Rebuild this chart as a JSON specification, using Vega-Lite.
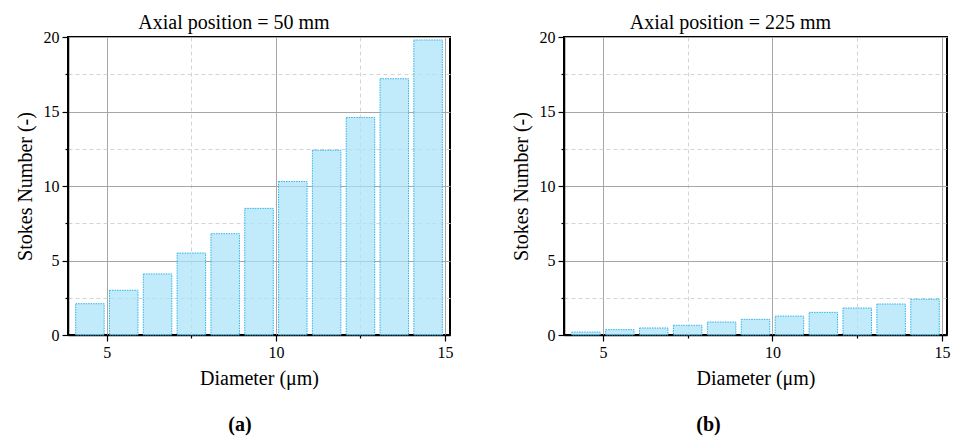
{
  "$schema": "https://vega.github.io/schema/vega-lite/v6.json",
  "background": "white",
  "padding": {"left": 14, "top": 12, "right": 5, "bottom": 5},
  "datasets": {
    "stokes": [
      {"position": "50 mm", "diameter": 4.5, "stokes": 2.1},
      {"position": "50 mm", "diameter": 5.5, "stokes": 3.0},
      {"position": "50 mm", "diameter": 6.5, "stokes": 4.1},
      {"position": "50 mm", "diameter": 7.5, "stokes": 5.5},
      {"position": "50 mm", "diameter": 8.5, "stokes": 6.8},
      {"position": "50 mm", "diameter": 9.5, "stokes": 8.5},
      {"position": "50 mm", "diameter": 10.5, "stokes": 10.3},
      {"position": "50 mm", "diameter": 11.5, "stokes": 12.4},
      {"position": "50 mm", "diameter": 12.5, "stokes": 14.6},
      {"position": "50 mm", "diameter": 13.5, "stokes": 17.2},
      {"position": "50 mm", "diameter": 14.5, "stokes": 19.8},
      {"position": "225 mm", "diameter": 4.5, "stokes": 0.2},
      {"position": "225 mm", "diameter": 5.5, "stokes": 0.36},
      {"position": "225 mm", "diameter": 6.5, "stokes": 0.47},
      {"position": "225 mm", "diameter": 7.5, "stokes": 0.65},
      {"position": "225 mm", "diameter": 8.5, "stokes": 0.87},
      {"position": "225 mm", "diameter": 9.5, "stokes": 1.05},
      {"position": "225 mm", "diameter": 10.5, "stokes": 1.27},
      {"position": "225 mm", "diameter": 11.5, "stokes": 1.52},
      {"position": "225 mm", "diameter": 12.5, "stokes": 1.81},
      {"position": "225 mm", "diameter": 13.5, "stokes": 2.08},
      {"position": "225 mm", "diameter": 14.5, "stokes": 2.4}
    ]
  },
  "config": {
    "font": "Liberation Serif",
    "view": {"stroke": "black", "strokeWidth": 2},
    "concat": {"spacing": 56},
    "title": {"font": "Liberation Serif", "fontSize": 20, "fontWeight": "normal", "color": "black", "offset": -4},
    "axis": {
      "labelFont": "Liberation Serif",
      "labelFontSize": 16,
      "labelColor": "black",
      "titleFont": "Liberation Serif",
      "titleFontSize": 20,
      "titleFontWeight": "normal",
      "titleColor": "black",
      "domainColor": "black",
      "domainWidth": 1.5,
      "tickColor": "black",
      "tickWidth": 1.2,
      "labelPadding": 3,
      "grid": true,
      "gridWidth": 1,
      "gridColor": {"condition": {"test": "datum.value % 5 === 0", "value": "#a6a6a6"}, "value": "#d4d4d4"},
      "gridDash": {"condition": {"test": "datum.value % 5 === 0", "value": []}, "value": [4, 3]},
      "tickSize": {"condition": {"test": "datum.value % 5 === 0", "value": 6}, "value": 3},
      "labelExpr": "datum.value % 5 === 0 ? datum.label : ''"
    }
  },
  "hconcat": [
    {
      "title": {"text": "(a)", "orient": "bottom", "anchor": "middle", "fontWeight": "bold", "offset": 26, "dx": 6},
      "vconcat": [
        {
          "title": {"text": "Axial position = 50 mm", "frame": "bounds", "anchor": "middle"},
          "width": 382,
          "height": 298,
          "data": {"name": "stokes"},
          "transform": [{"filter": "datum.position === '50 mm'"}],
          "mark": {"type": "bar", "width": 28.5, "fill": "#a9e2f8", "fillOpacity": 0.72, "stroke": "#2fb4ea", "strokeWidth": 1, "strokeDash": [1.5, 1]},
          "encoding": {
            "x": {"field": "diameter", "type": "quantitative", "title": "Diameter (μm)", "scale": {"domain": [4, 15], "nice": false}, "axis": {"values": [5, 7.5, 10, 12.5, 15], "titlePadding": 8}},
            "y": {"field": "stokes", "type": "quantitative", "title": "Stokes Number (-)", "scale": {"domain": [0, 20], "nice": false}, "axis": {"values": [0, 2.5, 5, 7.5, 10, 12.5, 15, 17.5, 20], "titlePadding": 8}}
          }
        }
      ]
    },
    {
      "title": {"text": "(b)", "orient": "bottom", "anchor": "middle", "fontWeight": "bold", "offset": 26, "dx": -22},
      "vconcat": [
        {
          "title": {"text": "Axial position = 225 mm", "frame": "bounds", "anchor": "middle"},
          "width": 383,
          "height": 298,
          "data": {"name": "stokes"},
          "transform": [{"filter": "datum.position === '225 mm'"}],
          "mark": {"type": "bar", "width": 28.5, "fill": "#a9e2f8", "fillOpacity": 0.72, "stroke": "#2fb4ea", "strokeWidth": 1, "strokeDash": [1.5, 1]},
          "encoding": {
            "x": {"field": "diameter", "type": "quantitative", "title": "Diameter (μm)", "scale": {"domain": [4, 15], "nice": false}, "axis": {"values": [5, 7.5, 10, 12.5, 15], "titlePadding": 8}},
            "y": {"field": "stokes", "type": "quantitative", "title": "Stokes Number (-)", "scale": {"domain": [0, 20], "nice": false}, "axis": {"values": [0, 2.5, 5, 7.5, 10, 12.5, 15, 17.5, 20], "titlePadding": 8}}
          }
        }
      ]
    }
  ]
}
